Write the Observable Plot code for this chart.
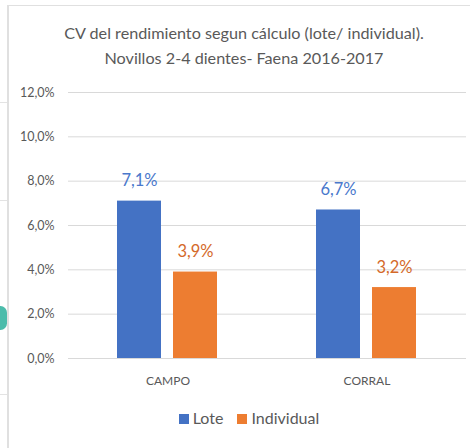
<!DOCTYPE html>
<html>
<head>
<meta charset="utf-8">
<script src="https://cdn.jsdelivr.net/npm/d3@7"></script>
<script src="https://cdn.jsdelivr.net/npm/@observablehq/plot@0.6"></script>
<style>
  body { margin: 0; background: #fff; font-family: Lato, "Open Sans", sans-serif; }
  #frame { position: absolute; left: 7px; top: 5px; width: 463px; height: 443px;
           border-left: 2px solid #e0e0e0; border-top: 1px solid #e0e0e0; box-sizing: border-box; }
  .side { position: absolute; left: 0; width: 7px; height: 1px; background: #e3e3e3; }
  #blob { position: absolute; left: -6px; top: 306px; width: 13px; height: 24px; border-radius: 7px; background: #4cbcab; }
  #wrap { position: absolute; left: 0; top: 0; width: 470px; }
  #title { margin-top: 20px; text-align: center; font-size: 16.2px; line-height: 25px; color: #595959; padding-left: 18px; }
  #legend { margin-top: 16px; text-align: center; font-size: 16px; line-height: 20px; color: #595959; padding-left: 28px; }
  .sw { display: inline-block; width: 10px; height: 10px; margin-right: 4px; vertical-align: 0px; }
  .item { margin: 0 7px; }
  #chart svg { background: transparent; }
</style>
</head>
<body>
<div id="frame"></div>
<div class="side" style="top:102px"></div>
<div class="side" style="top:200px"></div>
<div class="side" style="top:394px"></div>
<div id="blob"></div>
<div id="wrap">
  <div id="title">CV del rendimiento segun cálculo (lote/ individual).<br>Novillos 2-4 dientes- Faena 2016-2017</div>
  <div id="chart"></div>
  <div id="legend"></div>
</div>
<script>
const categories = ["CAMPO", "CORRAL"];
const series = ["Lote", "Individual"];
const loteValues = [7.1, 6.7];
const individualValues = [3.9, 3.2];
const yTicks = [0, 2, 4, 6, 8, 10, 12];
const colors = ["#4472C4", "#ED7D31"];
const labelColors = ["#4a78cc", "#d4692a"];

const data = [];
categories.forEach((c, i) => {
  data.push({cat: c, serie: "Lote", value: loteValues[i]});
  data.push({cat: c, serie: "Individual", value: individualValues[i]});
});
const fmt = d => d.toFixed(1).replace(".", ",") + "%";

const chart = Plot.plot({
  width: 470,
  height: 322,
  marginLeft: 67,
  marginRight: 4,
  marginTop: 22,
  marginBottom: 34,
  style: {fontFamily: "Lato, sans-serif", color: "#595959", background: "transparent"},
  fx: {domain: categories, padding: 0, label: null, axis: null},
  x: {domain: series, paddingInner: 0.212, paddingOuter: 0.871, axis: null},
  y: {domain: [0, 12], label: null},
  color: {domain: series, range: colors},
  marks: [
    Plot.gridY(yTicks, {stroke: "#d9d9d9", strokeOpacity: 1, strokeWidth: 1}),
    Plot.axisY({ticks: yTicks, tickFormat: fmt, tickSize: 0, tickPadding: 14, fontSize: 12.5, label: null}),
    Plot.axisFx({anchor: "bottom", tickSize: 0, tickPadding: 18, fontSize: 12, label: null}),
    Plot.barY(data, {fx: "cat", x: "serie", y: "value", fill: "serie"}),
    Plot.text(data, {fx: "cat", x: "serie", y: "value", text: d => fmt(d.value),
      fill: d => labelColors[series.indexOf(d.serie)], fontSize: 16.5, dy: -20})
  ]
});
document.getElementById("chart").appendChild(chart);

const legend = document.getElementById("legend");
series.forEach((s, i) => {
  const span = document.createElement("span");
  span.className = "item";
  span.innerHTML = `<span class="sw" style="background:${colors[i]}"></span>${s}`;
  legend.appendChild(span);
});
</script>
</body>
</html>
